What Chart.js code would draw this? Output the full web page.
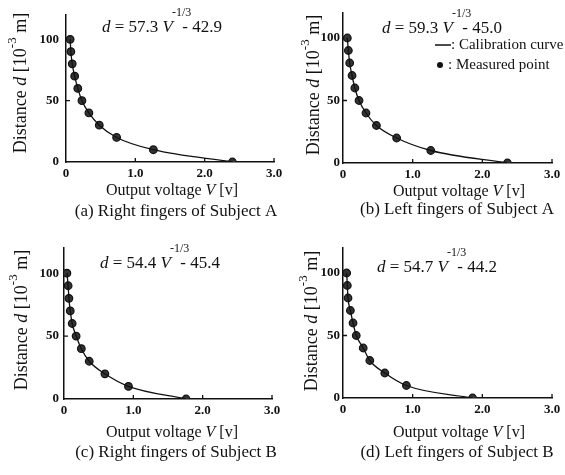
<!DOCTYPE html>
<html>
<head>
<meta charset="utf-8">
<script src="https://cdn.jsdelivr.net/npm/chart.js@4.4.1/dist/chart.umd.min.js"></script>
<style>
  body { margin: 0; background: #fff; }
  #wrap { position: relative; width: 565px; height: 475px; overflow: hidden; background: #fff; }
  #wrap canvas { position: absolute; }
</style>
</head>
<body>
<div id="wrap">
  <canvas id="chartA"></canvas>
  <canvas id="chartB"></canvas>
  <canvas id="chartC"></canvas>
  <canvas id="chartD"></canvas>
</div>
<script>
// data
const distance = [100, 90, 80, 70, 60, 50, 40, 30, 20, 10, 0];
const voltRightA = [0.06, 0.07, 0.09, 0.125, 0.17, 0.23, 0.33, 0.48, 0.73, 1.26, 2.40];
const voltLeftA = [0.062, 0.077, 0.096, 0.13, 0.17, 0.23, 0.33, 0.48, 0.77, 1.26, 2.36];
const voltRightB = [0.042, 0.06, 0.071, 0.09, 0.118, 0.175, 0.25, 0.364, 0.59, 0.93, 1.76];
const voltLeftB = [0.053, 0.062, 0.072, 0.106, 0.144, 0.19, 0.29, 0.385, 0.60, 0.91, 1.86];

const coefA = ['57.3', '59.3', '54.4', '54.7'];
const coefB = ['42.9', '45.0', '45.4', '44.2'];
const captions = [
  '(a) Right fingers of Subject A',
  '(b) Left fingers of Subject A',
  '(c) Right fingers of Subject B',
  '(d) Left fingers of Subject B'
];

const xTicks = [0, 1, 2, 3];
const xTickLabels = ['0', '1.0', '2.0', '3.0'];
const yTicks = [0, 50, 100];
const yTickLabels = ['0', '50', '100'];

const SERIF = '"Liberation Serif", "Times New Roman", serif';

// layout of each panel (canvas box, plot area, text anchors), in px
const panels = [
  { id: 'chartA', volts: voltRightA, left: 0, top: 0, w: 300, h: 237,
    area: { l: 66, r: 274, t: 13, b: 162 }, yPad: 7,
    eq: [102, 32], yT: [21, 83], xT: [172, 191], cap: [176, 212], legend: false },
  { id: 'chartB', volts: voltLeftA, left: 280, top: 0, w: 285, h: 237,
    area: { l: 63, r: 272, t: 13, b: 163 }, yPad: 3,
    eq: [102, 33], yT: [34, 85], xT: [179, 192], cap: [177, 210], legend: true },
  { id: 'chartC', volts: voltRightB, left: 0, top: 235, w: 300, h: 240,
    area: { l: 64, r: 272, t: 13, b: 164 }, yPad: 5,
    eq: [100, 33], yT: [22, 85], xT: [172, 198], cap: [176, 218], legend: false },
  { id: 'chartD', volts: voltLeftB, left: 280, top: 235, w: 285, h: 240,
    area: { l: 63, r: 272, t: 13, b: 163 }, yPad: 3,
    eq: [97, 37], yT: [32, 86], xT: [179, 198], cap: [177, 218], legend: false }
];

// draws runs of [text, font, dy, dx] left to right, returns end x
function drawRuns(ctx, runs, x, y) {
  runs.forEach(([txt, font, dy, dx]) => {
    ctx.font = font;
    x += dx || 0;
    ctx.fillText(txt, x, y + (dy || 0));
    x += ctx.measureText(txt).width;
  });
  return x;
}

const overlay = {
  id: 'overlay',
  afterDraw(chart, args, opts) {
    const p = opts.panel;
    const idx = opts.index;
    const ctx = chart.ctx;
    const xs = chart.scales.x, ys = chart.scales.y;
    ctx.save();
    ctx.fillStyle = '#111';
    ctx.strokeStyle = '#111';

    // small inner tick marks
    ctx.lineWidth = 1.3;
    ctx.beginPath();
    [1, 2, 3].forEach(v => {
      const px = xs.getPixelForValue(v);
      ctx.moveTo(px, ys.bottom); ctx.lineTo(px, ys.bottom - 4);
    });
    const py = ys.getPixelForValue(50);
    ctx.moveTo(xs.left, py); ctx.lineTo(xs.left + 4, py);
    ctx.stroke();

    // equation
    ctx.textBaseline = 'alphabetic';
    ctx.textAlign = 'left';
    const f = '17px ' + SERIF, fi = 'italic 17px ' + SERIF, fs = '12px ' + SERIF;
    let x = drawRuns(ctx, [['d', fi], [' = ' + coefA[idx] + ' ', f], ['V', fi]], p.eq[0], p.eq[1]);
    drawRuns(ctx, [['-1/3', fs, -16, -1]], x, p.eq[1]);
    drawRuns(ctx, [[' - ' + coefB[idx], f]], x + 5, p.eq[1]);

    // y title (rotated)
    ctx.save();
    ctx.translate(p.yT[0], p.yT[1]);
    ctx.rotate(-Math.PI / 2);
    ctx.textBaseline = 'middle';
    const yf = '18px ' + SERIF, yfi = 'italic 18px ' + SERIF, yfs = '13px ' + SERIF;
    const yRuns = [['Distance ', yf], ['d', yfi], [' [10', yf], ['-3', yfs, -8], [' m]', yf]];
    let wSum = 0;
    yRuns.forEach(r => { ctx.font = r[1]; wSum += ctx.measureText(r[0]).width; });
    drawRuns(ctx, yRuns, -wSum / 2, 0);
    ctx.restore();

    // x title
    ctx.textBaseline = 'middle';
    const xRuns = [['Output voltage ', '16px ' + SERIF], ['V', 'italic 16px ' + SERIF], [' [v]', '16px ' + SERIF]];
    let xw = 0;
    xRuns.forEach(r => { ctx.font = r[1]; xw += ctx.measureText(r[0]).width; });
    drawRuns(ctx, xRuns, p.xT[0] - xw / 2, p.xT[1]);

    // caption
    ctx.font = '17px ' + SERIF;
    ctx.textAlign = 'center';
    ctx.fillText(captions[idx], p.cap[0], p.cap[1]);

    // legend inside panel (b)
    if (p.legend) {
      const ds = chart.data.datasets;
      ctx.textAlign = 'left';
      ctx.font = '15px ' + SERIF;
      ctx.lineWidth = 1.5;
      ctx.beginPath();
      ctx.moveTo(155, 45); ctx.lineTo(171, 45);
      ctx.stroke();
      ctx.fillText(': ' + ds[0].label, 171, 45);
      ctx.beginPath();
      ctx.arc(160, 65, 3, 0, Math.PI * 2);
      ctx.fill();
      ctx.fillText(': ' + ds[1].label, 168, 65);
    }
    ctx.restore();
  }
};

panels.forEach((p, i) => {
  const canvas = document.getElementById(p.id);
  canvas.width = p.w;
  canvas.height = p.h;
  canvas.style.left = p.left + 'px';
  canvas.style.top = p.top + 'px';

  const pts = distance.map((d, k) => ({ x: p.volts[k], y: d }));

  new Chart(canvas.getContext('2d'), {
    type: 'scatter',
    data: {
      datasets: [
        {
          label: 'Calibration curve',
          data: pts,
          showLine: true,
          borderColor: '#111',
          borderWidth: 1.3,
          pointRadius: 0,
          tension: 0.3,
          cubicInterpolationMode: 'monotone'
        },
        {
          label: 'Measured point',
          data: pts,
          showLine: false,
          pointRadius: 3.8,
          pointBackgroundColor: '#333',
          pointBorderColor: '#111',
          pointBorderWidth: 1.2
        }
      ]
    },
    options: {
      responsive: false,
      animation: false,
      devicePixelRatio: 1,
      layout: {
        padding: { left: 0, right: p.w - p.area.r, top: p.area.t, bottom: 0 }
      },
      plugins: {
        legend: { display: false },
        tooltip: { enabled: false },
        overlay: { panel: p, index: i }
      },
      scales: {
        x: {
          type: 'linear',
          min: 0,
          max: 3,
          grid: { display: false, drawTicks: false, tickLength: 0 },
          border: { display: true, color: '#111', width: 1.5 },
          afterBuildTicks: s => { s.ticks = xTicks.map(v => ({ value: v })); },
          afterFit: s => { s.height = p.h - p.area.b; },
          ticks: {
            padding: 4,
            maxRotation: 0,
            color: '#111',
            font: { family: SERIF, size: 13, weight: 'bold' },
            callback: v => xTickLabels[xTicks.indexOf(v)]
          }
        },
        y: {
          type: 'linear',
          min: 0,
          max: 120,
          grid: { display: false, drawTicks: false, tickLength: 0 },
          border: { display: true, color: '#111', width: 1.5 },
          afterBuildTicks: s => { s.ticks = yTicks.map(v => ({ value: v })); },
          afterFit: s => { s.width = p.area.l; },
          ticks: {
            padding: p.yPad,
            color: '#111',
            font: { family: SERIF, size: 13, weight: 'bold' },
            callback: v => yTickLabels[yTicks.indexOf(v)]
          }
        }
      }
    },
    plugins: [overlay]
  });
});
</script>
</body>
</html>
